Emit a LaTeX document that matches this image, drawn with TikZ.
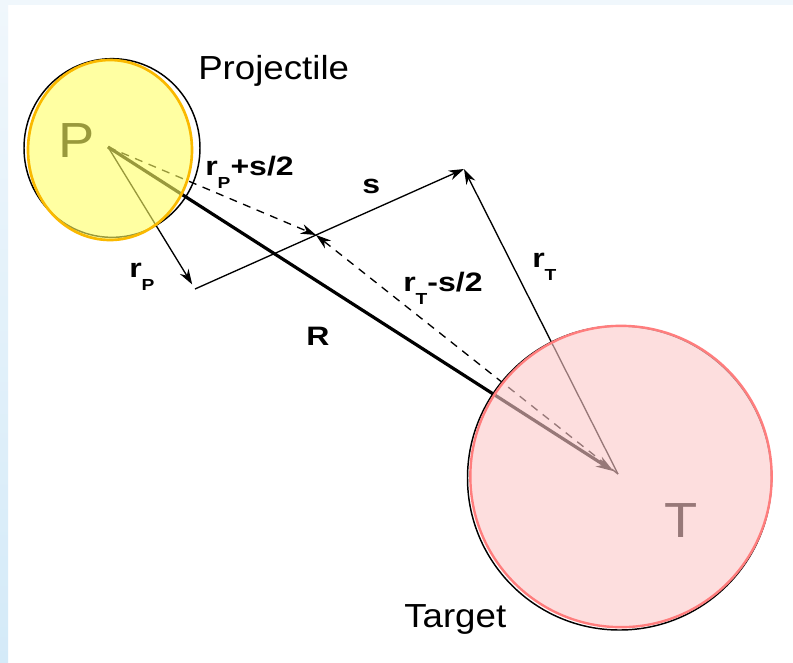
\documentclass[tikz,border=0pt]{standalone}
\usepackage{fontspec}
\setmainfont{Liberation Sans}[FakeStretch=1.1]
\newfontfamily\labfont{Liberation Sans}[FakeStretch=1.2]
\usetikzlibrary{arrows.meta}

\definecolor{projfill}{RGB}{255,255,100}
\definecolor{projedge}{RGB}{250,185,0}
\definecolor{targfill}{RGB}{252,200,200}
\definecolor{targedge}{RGB}{255,125,125}
\definecolor{striptop}{RGB}{240,247,252}
\definecolor{stripbot}{RGB}{212,234,248}

\newcommand{\sublab}[2]{#1\raisebox{-10pt}{\fontsize{12}{12}\selectfont #2}}

\begin{document}
\begin{tikzpicture}[x=0.75pt, y=-0.75pt,
        txt/.style={inner sep=0, anchor=base west, font=\fontsize{25}{30}\selectfont},
        letter/.style={inner sep=0, anchor=base, font=\fontsize{37}{40}\selectfont},
        lab/.style={inner sep=0, anchor=base west,
                font=\labfont\bfseries\fontsize{20}{22}\selectfont},
        vec/.style={-{Stealth[length=11.5pt, width=7.5pt]}, line width=1pt},
        half/.style={vec, dash pattern=on 6pt off 5pt},
        sep/.style={-{Stealth[length=13pt, width=8.5pt]}, line width=2.4pt},
        rim/.style={line width=1.1pt}
    ]
    \useasboundingbox (0,0) rectangle (793,662);
    \fill[white] (0,0) rectangle (793,662);
    \fill[striptop] (0,0) rectangle (793,5);
    \shade[top color=striptop, bottom color=stripbot] (0,0) rectangle (8,662);

    \coordinate (Pc) at (108,147);
    \coordinate (Tc) at (618,474);
    \coordinate (A) at (195,289);
    \coordinate (B) at (464,169);
    \coordinate (M) at (316,235);

    \draw[rim] (112,148) ellipse [x radius=66pt, y radius=67pt];
    \draw[rim] (619.5,478) circle [radius=114pt];

    \node[letter] (pl) at (77,157) {P};
    \node[letter] (tl) at (681,537) {T};

    \draw[sep, shorten >=4pt] (Pc) -- (Tc);
    \draw[half] (Pc) -- (M);
    \draw[half] (Tc) -- (M);
    \draw[vec, shorten >=4pt] (Pc) -- (A);
    \draw[vec] (A) -- (B);
    \draw[vec] (Tc) -- (B);

    \fill[projfill, fill opacity=0.6] (110,150) ellipse [x radius=61.5pt, y radius=67.5pt];
    \draw[projedge, line width=2pt] (110,150) ellipse [x radius=61.5pt, y radius=67.5pt];
    \fill[targfill, fill opacity=0.6] (621,476.5) circle [radius=113pt];
    \draw[targedge, line width=1.8pt] (621,476.5) circle [radius=113pt];

    \node[txt] (proj) at (198,79) {Projectile};
    \node[txt] (targ) at (404,627) {Target};
    \node[lab] (rps) at (205,175) {\sublab{r}{P}+s/2};
    \node[lab] (sl) at (362,193) {s};
    \node[lab] (rp) at (129,277) {\sublab{r}{P}};
    \node[lab] (rts) at (403,291) {\sublab{r}{T}-s/2};
    \node[lab] (rt) at (532,267) {\sublab{r}{T}};
    \node[lab] (rl) at (306,345) {R};
\end{tikzpicture}
\end{document}
